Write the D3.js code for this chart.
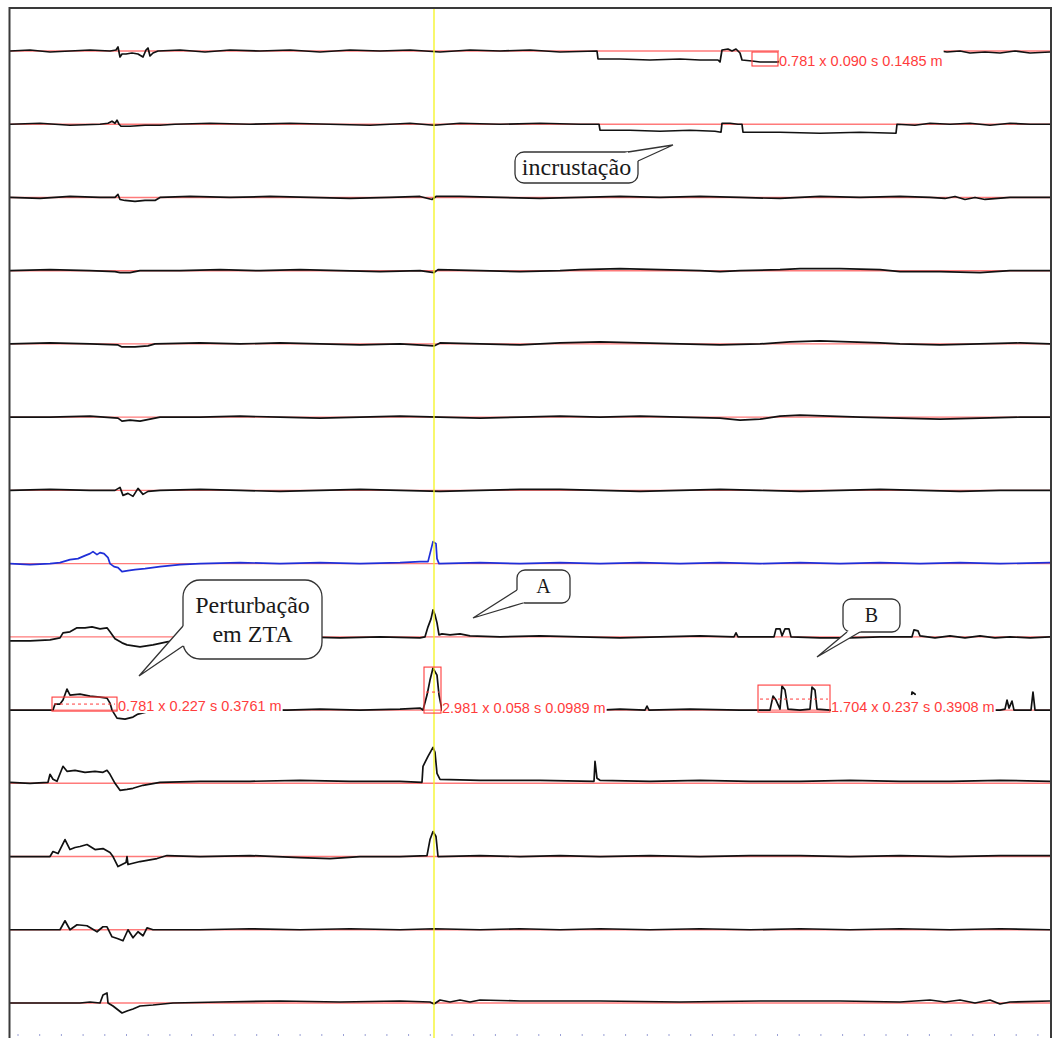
<!DOCTYPE html>
<html>
<head>
<meta charset="UTF-8">
<title>Sinais por canal</title>
<script src="https://cdn.jsdelivr.net/npm/d3@7"></script>
<style>
  body { margin: 0; background: #fff; }
  svg { display: block; }
  .meas { font-family: "Liberation Sans", Arial, sans-serif; font-size: 14.5px; fill: #ff3c3c; }
  .callout text { font-family: "Liberation Serif", "Times New Roman", serif; fill: #1a1a1a; text-anchor: middle; }
</style>
</head>
<body>
<svg id="chart"></svg>
<script>
// ---- data: one trace per channel, [sample position, amplitude above reference]
var ch1 = [[10,0],[30,1],[50,-1],[70,0],[90,1],[110,0],[116,1],[118,4],[120,-6],[122,-3],[126,-3],[132,-2],[138,-3],[143,-6],[146,1],[148,3],[150,-5],[153,-2],[158,0],[180,1],[205,-1],[230,1],[260,0],[290,1],[320,-1],[350,1],[380,0],[410,1],[440,-1],[470,1],[500,0],[530,1],[560,-1],[597,0],[598,-8],[620,-8],[650,-9],[680,-8],[700,-9],[718,-9],[720,-11],[722,1],[728,2],[732,0],[736,2],[740,-2],[742,-9],[752,-10],[760,-11],[778,-11],[800,0],[940,0],[947,-1],[960,0],[970,-2],[985,-1],[1000,-2],[1015,0],[1030,-2],[1050,-1]];
var ch2 = [[10,0],[40,1],[70,-1],[100,0],[108,1],[112,3],[115,1],[117,4],[119,0],[121,-2],[130,-2],[145,-1],[160,-1],[175,0],[210,1],[250,0],[290,1],[330,0],[370,-1],[410,1],[434,-1],[460,1],[500,0],[540,1],[580,0],[599,0],[600,-6],[630,-6],[660,-7],[690,-6],[715,-7],[721,-8],[722,1],[730,1],[738,0],[742,0],[743,-8],[780,-8],[820,-9],[860,-8],[896,-9],[897,0],[915,-1],[930,1],[950,0],[970,1],[990,-1],[1010,1],[1030,0],[1050,0]];
var ch3 = [[10,0],[40,-1],[70,1],[100,0],[115,0],[118,3],[120,-2],[125,-3],[135,-4],[145,-3],[155,-3],[160,0],[190,1],[230,0],[270,1],[310,0],[350,-1],[390,0],[420,1],[432,-2],[436,1],[460,1],[500,0],[540,-1],[580,0],[620,1],[660,0],[700,1],[740,0],[780,-1],[820,1],[860,0],[900,1],[930,0],[945,-1],[955,1],[965,-2],[975,0],[985,-2],[1010,0],[1050,0]];
var ch4 = [[10,0],[50,1],[90,0],[115,-1],[120,-2],[130,-2],[140,0],[180,0],[220,1],[260,0],[300,1],[340,0],[380,-1],[420,0],[434,-2],[438,1],[480,0],[520,-1],[560,0],[580,1],[620,2],[660,1],[700,0],[720,-1],[740,0],[780,1],[800,2],[840,2],[880,1],[900,-1],[940,-1],[980,-2],[1010,0],[1050,0]];
var ch5 = [[10,0],[50,1],[90,0],[118,-1],[122,-3],[135,-3],[148,-2],[155,0],[200,1],[240,0],[280,1],[320,0],[360,-1],[400,0],[434,-2],[440,1],[480,0],[520,-1],[560,1],[600,2],[640,1],[680,0],[720,-1],[760,0],[790,2],[820,3],[850,2],[880,1],[900,0],[940,-1],[980,0],[1020,1],[1050,0]];
var ch6 = [[10,0],[50,0],[90,1],[118,-1],[122,-4],[130,-3],[140,-4],[150,-2],[160,0],[200,0],[240,1],[280,0],[320,-1],[360,0],[400,1],[440,0],[480,-1],[520,0],[560,1],[600,0],[640,1],[680,0],[720,-1],[740,-3],[760,-2],[780,1],[800,2],[830,1],[860,0],[900,-1],[940,-2],[980,-1],[1020,0],[1050,0]];
var ch7 = [[10,0],[50,1],[90,0],[115,0],[120,3],[123,-5],[128,-3],[133,-6],[138,2],[143,-4],[148,-1],[160,0],[200,1],[240,0],[280,-1],[320,0],[360,1],[400,0],[440,-1],[480,0],[520,1],[560,1],[600,0],[640,-1],[680,0],[720,1],[760,0],[800,-1],[840,0],[880,1],[920,0],[960,-1],[1000,0],[1050,0]];
var ch8 = [[10,0],[30,-1],[50,0],[60,1],[70,4],[78,5],[85,8],[90,10],[93,12],[97,9],[100,11],[104,10],[108,6],[110,0],[114,-3],[118,-4],[122,-8],[128,-7],[135,-6],[145,-5],[160,-3],[180,-1],[200,0],[240,1],[280,0],[320,1],[360,0],[400,1],[420,2],[428,2],[431,14],[433,22],[436,20],[437,5],[439,0],[480,1],[520,0],[560,1],[600,0],[640,1],[680,0],[720,1],[760,0],[800,1],[840,0],[880,1],[920,0],[960,1],[1000,0],[1050,1]];
var ch9 = [[10,-4],[30,-4],[50,-3],[60,-1],[63,4],[70,5],[77,9],[85,9],[92,10],[100,8],[107,9],[110,5],[115,-2],[122,-6],[127,-8],[140,-10],[153,-8],[167,-5],[187,-2],[220,-1],[260,-1],[300,0],[340,-1],[380,0],[420,-1],[425,0],[428,10],[431,18],[433,27],[435,22],[437,14],[439,2],[442,3],[450,2],[460,3],[470,1],[500,0],[540,1],[580,0],[620,-1],[660,0],[700,1],[734,0],[736,4],[738,0],[774,0],[776,8],[780,8],[782,1],[785,8],[789,8],[791,0],[820,-1],[850,-1],[880,0],[912,0],[914,7],[918,6],[920,1],[935,-1],[950,1],[965,-1],[980,1],[995,-1],[1010,0],[1030,-1],[1050,0]];
var ch10 = [[10,0],[40,0],[53,0],[55,6],[60,6],[63,10],[67,21],[70,15],[80,16],[90,14],[100,13],[107,12],[110,7],[112,0],[117,-8],[125,-9],[133,-7],[138,-4],[150,-1],[200,0],[287,0],[320,1],[360,0],[400,1],[420,2],[423,0],[427,15],[430,30],[433,42],[437,35],[439,15],[442,0],[500,0],[600,0],[620,1],[645,0],[647,4],[649,0],[690,1],[740,0],[770,0],[773,14],[776,10],[780,1],[782,24],[785,20],[788,1],[800,0],[810,1],[812,23],[815,20],[817,1],[830,0],[910,0],[912,18],[915,16],[918,0],[925,13],[927,0],[1000,0],[1005,1],[1007,10],[1009,2],[1012,9],[1014,0],[1031,0],[1033,18],[1035,0],[1050,0]];
var ch11 = [[10,1],[30,0],[48,1],[50,9],[53,4],[57,2],[63,17],[67,12],[75,13],[85,11],[95,12],[103,11],[107,13],[110,9],[115,0],[120,-7],[127,-6],[133,-5],[143,-2],[160,1],[200,2],[250,2],[300,3],[350,2],[400,2],[422,1],[423,17],[428,27],[433,36],[435,31],[437,10],[440,4],[480,3],[540,3],[594,2],[595,22],[597,5],[600,3],[650,2],[700,3],[750,2],[800,2],[850,3],[900,2],[950,2],[1000,3],[1050,2]];
var ch12 = [[10,0],[50,0],[53,5],[58,3],[65,17],[70,7],[75,9],[80,10],[87,12],[95,7],[103,8],[110,4],[113,0],[118,-10],[122,-8],[126,-6],[127,0],[128,-8],[140,-5],[157,-2],[167,1],[200,0],[250,1],[300,-1],[330,-2],[360,0],[400,0],[427,1],[430,17],[433,25],[436,20],[437,10],[438,0],[480,1],[520,0],[560,1],[600,0],[650,1],[700,0],[750,1],[800,1],[850,0],[900,1],[950,0],[1000,1],[1050,1]];
var ch13 = [[10,0],[40,0],[60,0],[65,9],[70,0],[77,5],[87,4],[97,-2],[103,3],[107,3],[112,-7],[118,-9],[123,-11],[128,0],[133,-8],[138,-2],[143,-6],[147,2],[153,0],[200,0],[250,1],[300,0],[350,1],[400,0],[434,1],[480,0],[520,1],[560,0],[600,1],[650,0],[700,1],[750,0],[800,1],[850,0],[900,1],[950,0],[1000,1],[1050,0]];
var ch14 = [[10,0],[50,0],[80,0],[90,1],[100,0],[103,8],[107,10],[108,0],[113,-3],[122,-10],[127,-8],[133,-6],[140,-3],[153,-2],[173,0],[220,1],[280,2],[340,1],[400,2],[430,1],[434,-1],[440,3],[450,1],[460,3],[470,1],[480,3],[520,2],[600,2],[680,1],[760,2],[840,2],[900,1],[930,3],[945,1],[960,3],[975,0],[990,3],[1000,-1],[1010,1],[1050,2]];

var traces = [ch1, ch2, ch3, ch4, ch5, ch6, ch7, ch8, ch9, ch10, ch11, ch12, ch13, ch14];
var highlighted = 7;       // channel drawn in blue
var cursorPos = 434;       // yellow cursor

// measurement windows: channel, from, to, low, high, dashed level
var measures = [
  {ch: 0, x0: 752, x1: 778, lo: -15, hi: -1, mid: null, text: "0.781 x 0.090 s 0.1485 m"},
  {ch: 9, x0: 52,  x1: 117, lo: -1,  hi: 13, mid: 6,    text: "0.781 x 0.227 s 0.3761 m"},
  {ch: 9, x0: 424, x1: 441, lo: -3,  hi: 43, mid: 18,   text: "2.981 x 0.058 s 0.0989 m"},
  {ch: 9, x0: 758, x1: 830, lo: -2,  hi: 25, mid: 11,   text: "1.704 x 0.237 s 0.3908 m"}
];

var notes = [
  {lines: ["incrustação"],          size: 24},
  {lines: ["Perturbação", "em ZTA"], size: 24},
  {lines: ["A"],                    size: 20},
  {lines: ["B"],                    size: 20}
];

// ---- layout
var width = 1053, height = 1038;

var svg = d3.select("#chart")
  .attr("width", width)
  .attr("height", height);

var x = d3.scaleLinear().domain([10, 1050]).range([10, 1050]);
var yBase = d3.scalePoint().domain(d3.range(traces.length)).range([51, 1003]);
var amp = d3.scaleLinear().domain([-50, 50]).range([50, -50]);

// reference lines
svg.append("g").selectAll("line")
  .data(traces)
  .enter().append("line")
  .attr("x1", x(10)).attr("x2", x(1050))
  .attr("y1", function(d, i) { return yBase(i); })
  .attr("y2", function(d, i) { return yBase(i); })
  .attr("stroke", "#ff7a7a")
  .attr("stroke-width", 1.4);

// traces
var line = d3.line();
svg.append("g").selectAll("path")
  .data(traces)
  .enter().append("path")
  .attr("d", function(d, i) {
    return line(d.map(function(p) { return [x(p[0]), yBase(i) + amp(p[1])]; }));
  })
  .attr("fill", "none")
  .attr("stroke", function(d, i) { return i === highlighted ? "#1f2fd8" : "#111"; })
  .attr("stroke-width", 1.7)
  .attr("stroke-linejoin", "round");

// cursor
svg.append("line")
  .attr("x1", x(cursorPos)).attr("x2", x(cursorPos))
  .attr("y1", 8).attr("y2", height)
  .attr("stroke", "#f4f41e")
  .attr("stroke-width", 1.3);

// measurement boxes + labels
var mg = svg.append("g").selectAll("g")
  .data(measures)
  .enter().append("g");

mg.append("rect")
  .attr("x", function(d) { return x(d.x0); })
  .attr("y", function(d) { return yBase(d.ch) + amp(d.hi); })
  .attr("width", function(d) { return x(d.x1) - x(d.x0); })
  .attr("height", function(d) { return amp(d.lo) - amp(d.hi); })
  .attr("fill", "none")
  .attr("stroke", "#ff3c3c")
  .attr("stroke-width", 1.1);

mg.filter(function(d) { return d.mid !== null; })
  .append("line")
  .attr("x1", function(d) { return x(d.x0) + 2; })
  .attr("x2", function(d) { return x(d.x1) - 2; })
  .attr("y1", function(d) { return yBase(d.ch) + amp(d.mid); })
  .attr("y2", function(d) { return yBase(d.ch) + amp(d.mid); })
  .attr("stroke", "#ff3c3c")
  .attr("stroke-width", 1)
  .attr("stroke-dasharray", "3,3");

var bg = mg.append("rect").attr("fill", "#fff");
var lbl = mg.append("text")
  .attr("class", "meas")
  .attr("x", function(d) { return x(d.x1) + 1; })
  .attr("y", function(d) { return yBase(d.ch) + amp(d.lo); })
  .text(function(d) { return d.text; });

lbl.each(function(d, i) {
  var w = this.getComputedTextLength();
  d3.select(bg.nodes()[i])
    .attr("x", x(d.x1) + 1)
    .attr("y", yBase(d.ch) + amp(d.lo) - 17)
    .attr("width", w + 1)
    .attr("height", 19);
});

// callouts (speech bubbles)
var boxes = [
  {x: 515, y: 152, w: 123, h: 31, r: 9,  a: [628, 152], b: [638, 161], tip: [673, 145]},
  {x: 183, y: 580, w: 139, h: 79, r: 17, a: [183, 626], b: [183, 646], tip: [139, 676]},
  {x: 517, y: 570, w: 53,  h: 33, r: 8,  a: [517, 590], b: [523, 603], tip: [473, 618]},
  {x: 843, y: 599, w: 57,  h: 33, r: 8,  a: [847, 632], b: [860, 632], tip: [817, 657]}
];

function roundRect(b) {
  var p = d3.path();
  p.moveTo(b.x + b.r, b.y);
  p.arcTo(b.x + b.w, b.y, b.x + b.w, b.y + b.h, b.r);
  p.arcTo(b.x + b.w, b.y + b.h, b.x, b.y + b.h, b.r);
  p.arcTo(b.x, b.y + b.h, b.x, b.y, b.r);
  p.arcTo(b.x, b.y, b.x + b.w, b.y, b.r);
  p.closePath();
  return p.toString();
}

function inward(pt, b) {
  var cx = b.x + b.w / 2, cy = b.y + b.h / 2;
  var dx = cx - pt[0], dy = cy - pt[1], len = Math.sqrt(dx * dx + dy * dy);
  return [pt[0] + dx / len * 3, pt[1] + dy / len * 3];
}

var cg = svg.append("g").selectAll("g")
  .data(notes)
  .enter().append("g")
  .attr("class", "callout");

cg.append("path")
  .attr("d", function(d, i) { return roundRect(boxes[i]); })
  .attr("fill", "#fff")
  .attr("stroke", "#333")
  .attr("stroke-width", 1.3);

cg.append("path")
  .attr("d", function(d, i) {
    var b = boxes[i];
    return d3.line()([b.a, b.tip, b.b, inward(b.b, b), inward(b.a, b)]) + "Z";
  })
  .attr("fill", "#fff");

cg.append("path")
  .attr("d", function(d, i) {
    var b = boxes[i];
    return d3.line()([b.a, b.tip, b.b]);
  })
  .attr("fill", "none")
  .attr("stroke", "#333")
  .attr("stroke-width", 1.3);

cg.each(function(d, i) {
  var b = boxes[i];
  var g = d3.select(this);
  var lh = d.size * 1.2;
  var top = b.y + b.h / 2 - (d.lines.length - 1) * lh / 2 + d.size * 0.33;
  d.lines.forEach(function(t, k) {
    g.append("text")
      .attr("x", b.x + b.w / 2)
      .attr("y", top + k * lh)
      .style("font-size", d.size + "px")
      .text(t);
  });
});

// small sample marks along the bottom
svg.append("g").selectAll("line")
  .data(d3.range(18, 1050, 21.7))
  .enter().append("line")
  .attr("x1", function(d) { return x(d); })
  .attr("x2", function(d) { return x(d); })
  .attr("y1", 1034).attr("y2", 1036)
  .attr("stroke", "#9aa0d6")
  .attr("stroke-width", 1);

// frame
svg.append("path")
  .attr("d", "M9.5," + height + "V8H1051V" + height)
  .attr("fill", "none")
  .attr("stroke", "#3a3a3a")
  .attr("stroke-width", 2);
</script>
</body>
</html>
